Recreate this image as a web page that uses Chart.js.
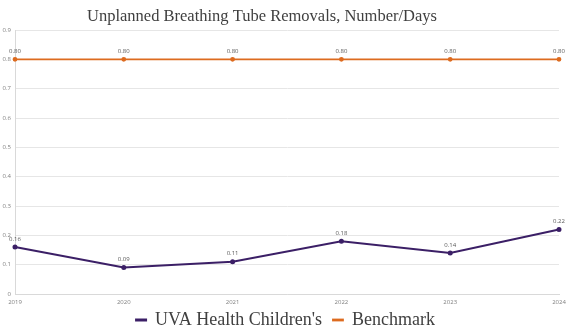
<!DOCTYPE html>
<html>
<head>
<meta charset="utf-8">
<script src="https://cdn.jsdelivr.net/npm/chart.js@4"></script>
<style>
  html, body { margin: 0; padding: 0; background: #fff; }
  #wrap { width: 571px; height: 330px; }
</style>
</head>
<body>
<div id="wrap"><canvas id="chart"></canvas></div>
<script>
// data
const years = ['2019', '2020', '2021', '2022', '2023', '2024'];
const uvaValues = [0.16, 0.09, 0.11, 0.18, 0.14, 0.22];
const benchmarkValues = [0.80, 0.80, 0.80, 0.80, 0.80, 0.80];
const chartTitle = 'Unplanned Breathing Tube Removals, Number/Days';

// little value labels above each point
const pointLabels = {
    id: 'pointLabels',
    afterDatasetsDraw(chart) {
        const ctx = chart.ctx;
        ctx.save();
        ctx.font = '6px "Open Sans", sans-serif';
        ctx.fillStyle = '#595959';
        ctx.textAlign = 'center';
        ctx.textBaseline = 'bottom';
        chart.data.datasets.forEach((ds, i) => {
            chart.getDatasetMeta(i).data.forEach((pt, j) => {
                ctx.fillText(ds.data[j].toFixed(2), pt.x, pt.y - 5);
            });
        });
        ctx.restore();
    }
};

// title sits a bit left of centre in the original
const titlePlugin = {
    id: 'titlePlugin',
    afterDraw(chart) {
        const ctx = chart.ctx;
        ctx.save();
        ctx.font = '16.5px "Liberation Serif", serif';
        ctx.fillStyle = '#404040';
        ctx.textAlign = 'center';
        ctx.textBaseline = 'middle';
        ctx.fillText(chartTitle, 262, 17);
        ctx.restore();
    }
};

// legend is tight under the axis: shrink its box and nudge the labels
const legendNudge = {
    id: 'legendNudge',
    afterInit(chart) {
        const lg = chart.legend;
        const fit = lg.fit;
        lg.fit = function () { fit.call(this); this.height = 25; };
        const draw = lg.draw;
        lg.draw = function () {
            this.ctx.save();
            this.ctx.translate(6, -5);
            draw.call(this);
            this.ctx.restore();
        };
    }
};

const ctx = document.getElementById('chart').getContext('2d');

new Chart(ctx, {
    type: 'line',
    data: {
        labels: years,
        datasets: [
            {
                label: "UVA Health Children's",
                data: uvaValues,
                borderColor: '#3b1f66',
                backgroundColor: '#3b1f66',
                borderWidth: 2,
                pointRadius: 1.5,
                tension: 0
            },
            {
                label: 'Benchmark',
                data: benchmarkValues,
                borderColor: '#dd6b1f',
                backgroundColor: '#dd6b1f',
                borderWidth: 1.8,
                pointRadius: 1.5,
                tension: 0
            }
        ]
    },
    options: {
        responsive: true,
        maintainAspectRatio: false,
        animation: false,
        layout: { padding: { left: 0, right: 12, top: 30, bottom: 0 } },
        plugins: {
            title: { display: false },
            legend: {
                position: 'bottom',
                labels: {
                    color: '#404040',
                    font: { family: '"Liberation Serif", serif', size: 18 },
                    boxWidth: 10,
                    boxHeight: 1,
                    padding: 11
                }
            },
            tooltip: { enabled: false }
        },
        scales: {
            x: {
                offset: false,
                afterFit(scale) { scale.height = 11; },
                grid: { display: false, drawTicks: false },
                border: { color: '#d9d9d9' },
                ticks: {
                    color: '#7f7f7f',
                    font: { family: '"Open Sans", sans-serif', size: 6 },
                    maxRotation: 0,
                    padding: 5
                }
            },
            y: {
                min: 0,
                max: 0.9,
                afterFit(scale) { scale.width = 15; },
                grid: { color: '#e6e6e6', drawTicks: false },
                border: { color: '#d9d9d9' },
                ticks: {
                    stepSize: 0.1,
                    color: '#7f7f7f',
                    font: { family: '"Open Sans", sans-serif', size: 6 },
                    padding: 4
                }
            }
        }
    },
    plugins: [pointLabels, titlePlugin, legendNudge]
});
</script>
</body>
</html>
